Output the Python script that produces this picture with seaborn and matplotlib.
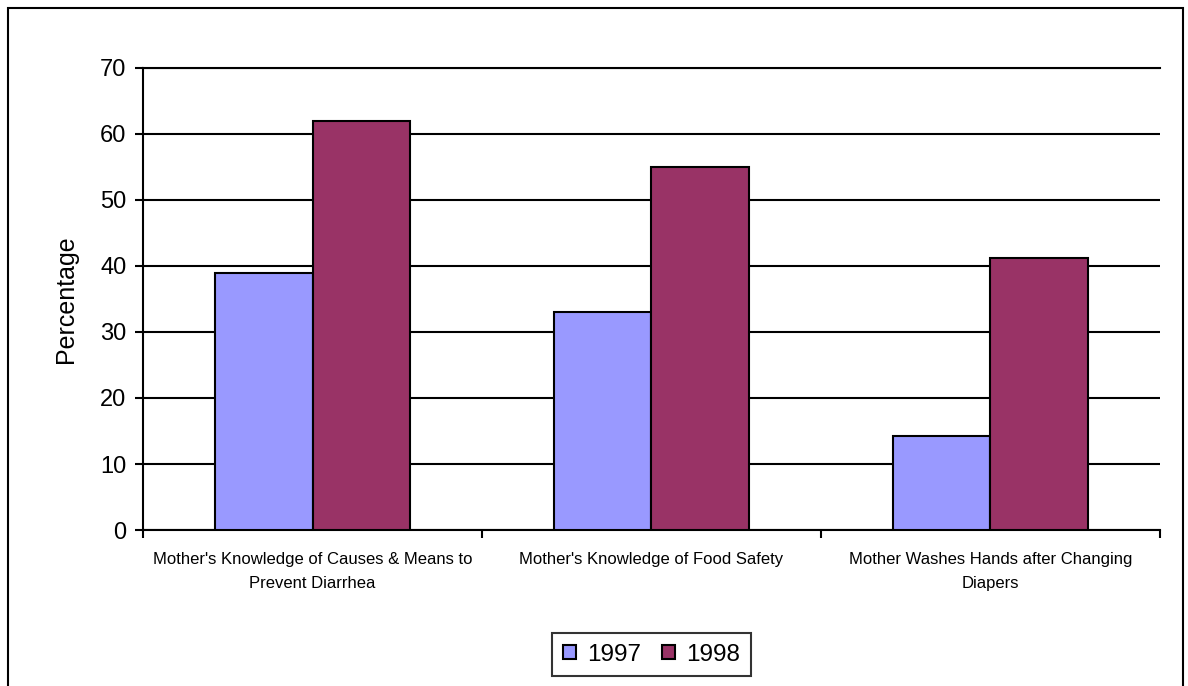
import numpy as np
import pandas as pd
import matplotlib.pyplot as plt
import seaborn as sns
from matplotlib.patches import Rectangle

categories = [
    "Mother's Knowledge of Causes & Means to\nPrevent Diarrhea",
    "Mother's Knowledge of Food Safety",
    "Mother Washes Hands after Changing\nDiapers",
]
years = ["1997", "1998"]
values_1997 = [39, 33, 14.2]
values_1998 = [62, 55, 41.2]
colors = ["#9999FF", "#993366"]

df = pd.DataFrame({
    "category": categories * 2,
    "year": [years[0]] * 3 + [years[1]] * 3,
    "value": values_1997 + values_1998,
})

sns.set_style("white")
plt.rcParams["font.family"] = ["Liberation Sans", "DejaVu Sans"]
plt.rcParams["text.color"] = "black"
plt.rcParams["axes.labelcolor"] = "black"
plt.rcParams["xtick.color"] = "black"
plt.rcParams["ytick.color"] = "black"

fig = plt.figure(figsize=(11.88, 6.86), dpi=100)
ax = fig.add_axes([0.1204, 0.2274, 0.856, 0.6735])

sns.barplot(data=df, x="category", y="value", hue="year", palette=colors,
            saturation=1, width=0.573, edgecolor="black", linewidth=1.5,
            ax=ax, zorder=3)

ax.set_ylim(0, 70)
ax.set_xlim(-0.5, 2.5)
ax.set_yticks(np.arange(0, 71, 10))
ax.yaxis.grid(True, color="black", linewidth=1.5, zorder=0)
ax.set_axisbelow(True)
ax.spines["right"].set_visible(False)
for s in ["left", "bottom", "top"]:
    ax.spines[s].set_color("black")
    ax.spines[s].set_linewidth(1.5)

ax.tick_params(axis="y", length=6, width=1.5, labelsize=17, pad=6, left=True)
ax.set_xticks([0, 1, 2])
ax.set_xticklabels(categories, fontsize=12, linespacing=1.75)
ax.set_xticks([-0.5, 0.5, 1.5, 2.5], minor=True)
ax.tick_params(axis="x", which="major", length=0, pad=16)
ax.tick_params(axis="x", which="minor", length=6, width=1.5, bottom=True)

ax.set_xlabel("")
ax.set_ylabel("Percentage", fontsize=18, labelpad=16)

ax.legend(loc="upper center", bbox_to_anchor=(0.5, -0.222), ncol=2,
          fontsize=17.5, frameon=True, fancybox=False, edgecolor="black",
          handlelength=0.55, handleheight=0.55, handletextpad=0.45,
          columnspacing=0.85, borderpad=0.45, borderaxespad=0)
leg = ax.get_legend()
leg.get_frame().set_linewidth(1.5)
for h in leg.legend_handles:
    h.set_edgecolor("black")
    h.set_linewidth(1.5)

fig.patches.append(Rectangle((8 / 1188, -0.1), 1175 / 1188, 1.088,
                             transform=fig.transFigure, fill=False,
                             edgecolor="black", linewidth=1.5, clip_on=False))

fig.savefig("out.png", dpi=100)
